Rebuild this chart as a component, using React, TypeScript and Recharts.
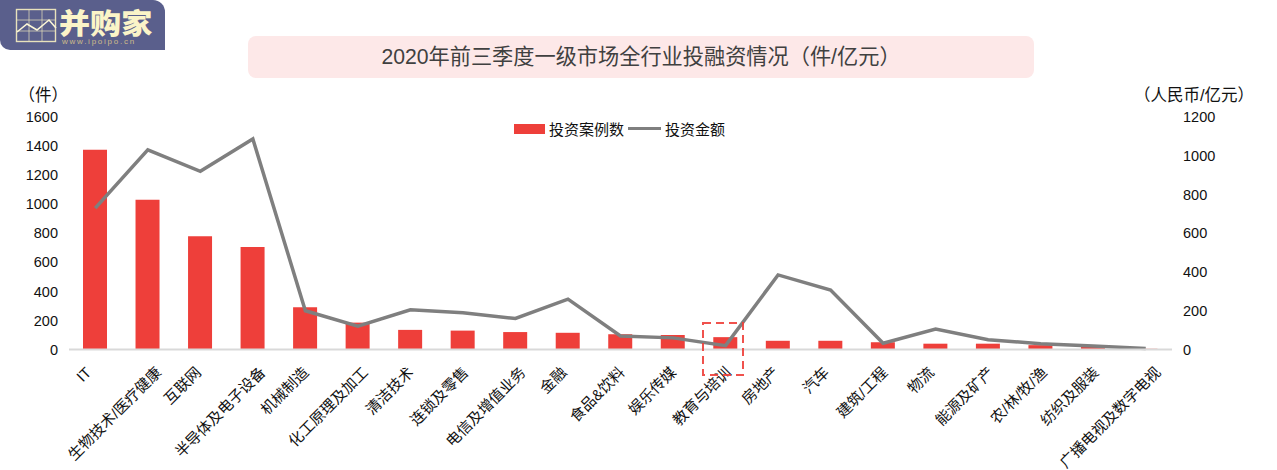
import React from "react";
import { ComposedChart, Bar, Line, XAxis, YAxis, Legend } from "recharts";

const categories = ["IT","生物技术/医疗健康","互联网","半导体及电子设备","机械制造","化工原理及加工","清洁技术","连锁及零售","电信及增值业务","金融","食品&饮料","娱乐传媒","教育与培训","房地产","汽车","建筑/工程","物流","能源及矿产","农/林/牧/渔","纺织及服装","广播电视及数字电视"];
const caseCounts = [1375,1030,780,705,290,185,135,130,120,115,105,100,85,60,60,50,40,40,30,20,5];
const amounts = [730,1030,920,1087,200,120,205,190,160,260,70,60,20,385,307,32,105,50,30,18,5];
const leftTicks = [0,200,400,600,800,1000,1200,1400,1600];
const rightTicks = [0,200,400,600,800,1000,1200];
const data = categories.map((name, i) => ({ name, cases: caseCounts[i], amount: amounts[i] }));

const FONT = '"Liberation Sans","Noto Sans CJK SC",sans-serif';
const TEXT = "#111";
const LABEL_SIZE = 15;

// The reference's rotated labels drift to the right the longer they are.
const labelWidth = (s: string) =>
  Array.from(s).reduce((w, c) => w + (c.charCodeAt(0) > 255 ? LABEL_SIZE : LABEL_SIZE * 0.45), 0);

const CategoryTick = (props: any) => {
  const { x, y, payload } = props;
  const dx = -9 + 0.155 * labelWidth(payload.value);
  return (
    <g transform={`translate(${x + dx},${y + 12})`}>
      <text transform="rotate(-45)" textAnchor="end" dominantBaseline="central" fontSize={LABEL_SIZE} fontFamily={FONT} fill={TEXT}>
        {payload.value}
      </text>
    </g>
  );
};

const LegendContent = (props: any) => (
  <div style={{ display: "flex", alignItems: "center", fontFamily: FONT, fontSize: 15, color: TEXT }}>
    {(props.payload || []).map((p: any) => (
      <div key={p.value} style={{ display: "flex", alignItems: "center", marginRight: 4 }}>
        {p.type === "rect"
          ? <span style={{ width: 31, height: 10, background: p.color, marginRight: 4 }} />
          : <span style={{ width: 33, height: 3.5, background: p.color, marginRight: 4 }} />}
        <span>{p.value}</span>
      </div>
    ))}
  </div>
);

const Logo = () => (
  <div style={{ position: "absolute", left: 0, top: 0, width: 165, height: 50, background: "#5a5f8c", borderTopRightRadius: 12, borderBottomLeftRadius: 10, overflow: "hidden" }}>
    <svg width="60" height="36" style={{ position: "absolute", left: 15, top: 8 }} fill="none" stroke="#e8e2bc" strokeWidth="1.4">
      <rect x="1.5" y="1.5" width="39" height="32" />
      <path d="M14 1.5V33.5M27 1.5V33.5M1.5 12H40.5M1.5 23H40.5" strokeWidth="1" opacity="0.7" />
      <path d="M2 24L12 16L22 22L34 12L41 20" strokeWidth="1.6" stroke="#fbf6d6" />
    </svg>
    <div style={{ position: "absolute", left: 59, top: 7.5, fontFamily: '"Noto Sans CJK SC"', fontWeight: 900, fontSize: 28, lineHeight: "28px", color: "#fbf4c8", whiteSpace: "nowrap", transform: "scaleX(1.11)", transformOrigin: "left center" }}>并购家</div>
    <div style={{ position: "absolute", left: 62, top: 37, fontFamily: FONT, fontSize: 8, letterSpacing: 1.75, lineHeight: "10px", color: "#cdbb8a", whiteSpace: "nowrap" }}>www.ipoipo.cn</div>
  </div>
);

export default function App() {
  return (
    <div style={{ position: "fixed", left: 0, top: 0, width: 1277, height: 470, background: "#fff", overflow: "hidden" }}>
      <ComposedChart
        width={1277}
        height={470}
        data={data}
        margin={{ top: 117, right: 0, bottom: 90.5, left: 0 }}
      >
        <XAxis dataKey="name" interval={0} tick={<CategoryTick />} tickLine={false} axisLine={{ stroke: "#d9d9d9", strokeWidth: 2 }} />
        <YAxis yAxisId="left" width={69} domain={[0, 1600]} ticks={leftTicks} interval={0} tickLine={false} axisLine={false} tickSize={0} tickMargin={11} tick={{ fontSize: 14.5, fontFamily: FONT, fill: TEXT }} />
        <YAxis yAxisId="right" orientation="right" width={105} domain={[0, 1200]} ticks={rightTicks} interval={0} tickLine={false} axisLine={false} tickSize={0} tickMargin={11} tick={{ fontSize: 14.5, fontFamily: FONT, fill: TEXT }} />
        <Legend
          verticalAlign="middle"
          align="center"
          content={<LegendContent />}
          wrapperStyle={{ position: "absolute", left: 514, top: 118, width: 300 }}
        />
        <Bar yAxisId="left" dataKey="cases" name="投资案例数" fill="#ee3f3a" barSize={24} legendType="rect" isAnimationActive={false} />
        <Line yAxisId="right" dataKey="amount" name="投资金额" type="linear" stroke="#7f7f7f" strokeWidth={3.5} dot={false} legendType="line" isAnimationActive={false} />
      </ComposedChart>

      <Logo />
      <div style={{ position: "absolute", left: 248, top: 36, width: 786, height: 42, background: "#fde8e8", borderRadius: 8, textAlign: "center", lineHeight: "42px", fontFamily: FONT, fontSize: 21.2, color: "#404040" }}>
        2020年前三季度一级市场全行业投融资情况（件/亿元）
      </div>
      <div style={{ position: "absolute", left: 18.5, top: 86, fontFamily: FONT, fontSize: 16.5, lineHeight: "18px", color: TEXT }}>（件）</div>
      <div style={{ position: "absolute", left: 1134, top: 86, fontFamily: FONT, fontSize: 16.5, lineHeight: "18px", color: TEXT, whiteSpace: "nowrap" }}>（人民币/亿元）</div>
      <svg width="44" height="56" style={{ position: "absolute", left: 701, top: 321 }} fill="none">
        <rect x="2" y="2" width="40" height="52" stroke="#ee3f3a" strokeWidth="2" strokeDasharray="8 5" opacity="0.9" />
      </svg>
    </div>
  );
}
